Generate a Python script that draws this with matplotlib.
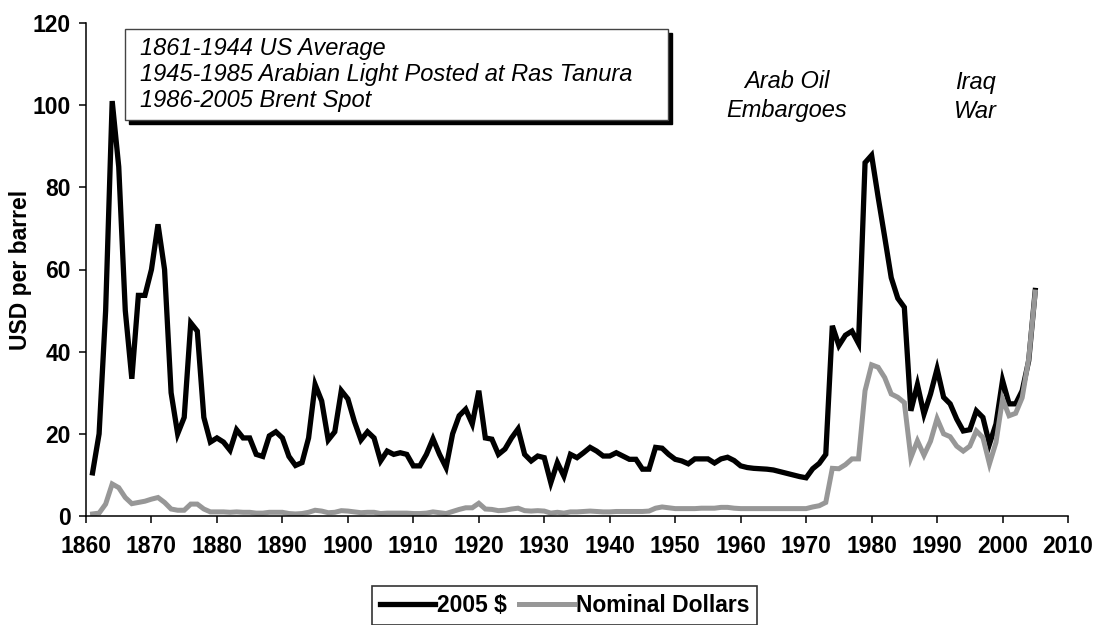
import matplotlib.pyplot as plt
import numpy as np
from matplotlib.patches import Rectangle

plt.rcParams['font.family'] = ['Liberation Sans', 'DejaVu Sans']

# oil price, one value per year 1861-2005
years = np.arange(1861, 2006)

real_2005 = [
    10.5, 20, 50, 101, 85, 50, 33.4, 53.7, 53.7, 60,           # 1861-1870
    71, 60, 30, 20, 24, 47, 45, 24, 18, 19,                    # 1871-1880
    18, 16, 21, 19, 19, 15, 14.5, 19.5, 20.5, 19,              # 1881-1890
    14.5, 12.3, 13, 19, 32, 28, 18.5, 20.5, 30.5, 28.5,        # 1891-1900
    23, 18.5, 20.5, 19, 13.4, 15.8, 15, 15.4, 15, 12.2,        # 1901-1910
    12.2, 15, 18.8, 15, 11.8, 20, 24.4, 26, 22.4, 30.5,        # 1911-1920
    19, 18.7, 15, 16.3, 19, 21.2, 15, 13.4, 14.6, 14.2,        # 1921-1930
    8.1, 13, 9.7, 15, 14.2, 15.4, 16.7, 15.8, 14.6, 14.6,      # 1931-1940
    15.4, 14.6, 13.8, 13.8, 11.4, 11.4, 16.7, 16.5, 15, 13.8,  # 1941-1950
    13.4, 12.7, 13.9, 13.9, 13.9, 12.9, 13.9, 14.3, 13.5, 12.2,  # 1951-1960
    11.8, 11.6, 11.5, 11.4, 11.2, 10.8, 10.4, 10.0, 9.6, 9.3,  # 1961-1970
    11.5, 12.8, 15, 46.3, 41.5, 44, 45, 42, 86, 87.8,          # 1971-1980
    77.6, 67.9, 58, 53, 50.8, 25.6, 32, 24.8, 29.7, 35.8,      # 1981-1990
    28.9, 27.3, 23.6, 20.7, 21, 25.6, 24, 17.5, 22.4, 33,      # 1991-2000
    27.3, 27.3, 30.5, 37.8, 54.9,                              # 2001-2005
]

nominal = [
    0.5, 0.7, 2.9, 7.8, 6.9, 4.5, 3.0, 3.3, 3.6, 4.1,
    4.5, 3.3, 1.7, 1.4, 1.4, 2.9, 2.9, 1.7, 1.0, 1.0,
    1.0, 0.9, 1.0, 0.9, 0.9, 0.7, 0.7, 0.9, 0.9, 0.9,
    0.6, 0.5, 0.6, 0.9, 1.4, 1.2, 0.8, 0.9, 1.3, 1.2,
    1.0, 0.8, 0.9, 0.9, 0.6, 0.7, 0.7, 0.7, 0.7, 0.6,
    0.6, 0.7, 1.0, 0.8, 0.6, 1.1, 1.6, 2.0, 2.0, 3.1,
    1.7, 1.6, 1.3, 1.4, 1.7, 1.9, 1.3, 1.2, 1.3, 1.2,
    0.7, 0.9, 0.7, 1.0, 1.0, 1.1, 1.2, 1.1, 1.0, 1.0,
    1.1, 1.1, 1.1, 1.1, 1.1, 1.2, 1.9, 2.2, 2.0, 1.8,
    1.8, 1.8, 1.8, 1.9, 1.9, 1.9, 2.1, 2.1, 1.9, 1.8,
    1.8, 1.8, 1.8, 1.8, 1.8, 1.8, 1.8, 1.8, 1.8, 1.8,
    2.2, 2.5, 3.3, 11.6, 11.5, 12.5, 13.9, 13.9, 30.5, 36.8,
    36.2, 33.7, 29.7, 28.9, 27.6, 14.2, 18.3, 14.8, 18.2, 23.7,
    20.0, 19.3, 17.0, 15.8, 17.0, 20.7, 19.1, 12.7, 17.9, 28.5,
    24.4, 25.0, 28.8, 38.3, 54.5,
]

x_ticks = np.arange(1860, 2011, 10)
y_ticks = np.arange(0, 121, 20)

box_lines = ['1861-1944 US Average',
             '1945-1985 Arabian Light Posted at Ras Tanura',
             '1986-2005 Brent Spot']

W, H = 1105, 625
fig = plt.figure(figsize=(W / 100, H / 100), dpi=100)
ax = fig.add_axes([86 / W, 1 - 516 / H, (1068 - 86) / W, (516 - 23) / H])

ax.plot(years, real_2005, color='black', lw=3.8, label='2005 $',
        solid_joinstyle='miter')
ax.plot(years, nominal, color='#979797', lw=3.6, label='Nominal Dollars',
        solid_joinstyle='miter')

ax.set_xlim(1860, 2010)
ax.set_ylim(0, 120)
ax.set_xticks(x_ticks)
ax.set_yticks(y_ticks)
for s in ['top', 'right']:
    ax.spines[s].set_visible(False)
for s in ['left', 'bottom']:
    ax.spines[s].set_linewidth(1.1)
ax.tick_params(direction='out', length=5, width=1.1, labelsize=16.5)
ax.tick_params(axis='x', pad=9)
ax.tick_params(axis='y', pad=6)
for lbl in ax.get_xticklabels() + ax.get_yticklabels():
    lbl.set_fontweight('bold')
ax.set_ylabel('USD per barrel', fontsize=16.5, fontweight='bold')
ax.yaxis.set_label_coords(-0.055, 0.5)

# text box with shadow, figure pixel coords
bx0, by0, bx1, by1 = 125, 29, 668, 120
fig.patches.append(Rectangle(((bx0 + 4) / W, 1 - (by1 + 4) / H), (bx1 - bx0) / W, (by1 - by0) / H,
                             transform=fig.transFigure, facecolor='black',
                             edgecolor='black', zorder=5))
fig.patches.append(Rectangle((bx0 / W, 1 - by1 / H), (bx1 - bx0) / W, (by1 - by0) / H,
                             transform=fig.transFigure, facecolor='white',
                             edgecolor='#444444', lw=1.0, zorder=6))
for i, line in enumerate(box_lines):
    fig.text(140 / W, 1 - (48 + 26 * i) / H, line, fontsize=17, style='italic',
             va='center', ha='left', zorder=7)

fig.text(787 / W, 1 - 82 / H, 'Arab Oil', fontsize=17, style='italic', ha='center', va='center')
fig.text(787 / W, 1 - 111 / H, 'Embargoes', fontsize=17, style='italic', ha='center', va='center')
fig.text(975 / W, 1 - 82 / H, 'Iraq', fontsize=17, style='italic', ha='center', va='center')
fig.text(975 / W, 1 - 111 / H, 'War', fontsize=17, style='italic', ha='center', va='center')

leg = fig.legend(loc='upper left', bbox_to_anchor=(372 / W, 1 - 586 / H), ncol=2,
                 fancybox=False, shadow=False, frameon=True, handlelength=2.4,
                 handletextpad=0.1, columnspacing=0.5, borderpad=0.35,
                 prop={'size': 16.5, 'weight': 'bold'}, borderaxespad=0)
leg.get_frame().set_edgecolor('black')
leg.get_frame().set_linewidth(1.2)

fig.savefig('out.png', dpi=100)
